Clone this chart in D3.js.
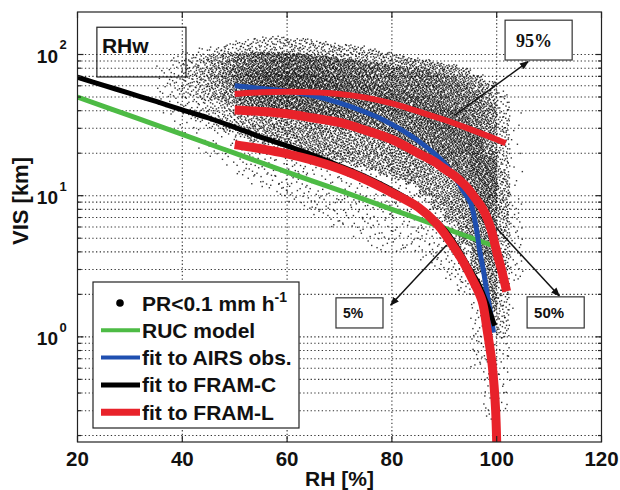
<!DOCTYPE html>
<html>
<head>
<meta charset="utf-8">
<script src="https://cdn.jsdelivr.net/npm/d3@7"></script>
<style>
body{margin:0;background:#fff;}
svg text{font-family:"Liberation Sans",Arial,Helvetica,sans-serif;font-weight:bold;fill:#111;}
</style>
</head>
<body>
<div id="chart"></div>
<script>
// fitted curves, RH [%] against VIS [km]
var rucRH  = [20, 30, 40, 50, 60, 70, 80, 90, 99.4];
var rucVis = [50, 36.9, 27.2, 20, 14.7, 10.9, 8.0, 5.9, 4.4];

var airsRH  = [50, 55, 60, 65, 70, 75, 78.4, 82, 85, 88, 90, 92, 93.5, 95, 96, 96.8, 97.5, 98.1, 98.8, 99.4];
var airsVis = [60, 57.5, 55, 51, 45.5, 39, 34.4, 29, 24.5, 20, 17, 13.6, 11, 8.9, 6.2, 4, 2.9, 2.1, 1.5, 1.07];

var framcRH  = [20, 25, 30, 35, 40, 45, 50, 55, 60, 65, 70, 75, 80, 85, 89.8, 92.5, 94.9, 96.5, 97.4, 98.3, 99, 99.6];
var framcVis = [69, 60.5, 53, 46.5, 40.5, 35.5, 30.5, 26, 22.5, 19.3, 16.3, 13.6, 11, 8.5, 5.9, 4.3, 3.0, 2.4, 2.0, 1.65, 1.4, 1.2];

// FRAM-L percentiles (95%, 50%, 5%)
var framl95RH  = [50, 55, 60, 65, 70, 75, 80, 85, 90, 95, 100, 101.7];
var framl95Vis = [52.5, 54, 54.5, 54, 52.5, 49.5, 45, 39.5, 34.5, 29.5, 25, 23.5];

var framl50RH  = [50, 55, 60, 65, 70, 75, 80, 85, 88, 90, 92, 94, 96, 97.4, 98.8, 100, 101, 101.9];
var framl50Vis = [40.5, 39.5, 38, 35.5, 33, 29, 25, 20, 17.5, 15.5, 13.8, 11.8, 9.5, 8, 6, 4, 2.9, 2.1];

var framl05RH  = [50, 55, 60, 65, 70, 75, 80, 85, 88.6, 91, 93.6, 95.5, 97.2, 98.2, 99, 99.5, 99.8, 100];
var framl05Vis = [23, 21.5, 19.8, 17.8, 15.5, 13, 10.5, 8.3, 6.3, 4.8, 3.4, 2.5, 1.8, 1.1, 0.7, 0.45, 0.3, 0.18];

// observation cloud (PR<0.1 mm/h), per 2.5 % RH bin: count and VIS quantiles [km]
var binRH   = [35, 37.5, 40, 42.5, 45, 47.5, 50, 52.5, 55, 57.5, 60, 62.5, 65, 67.5, 70, 72.5, 75, 77.5, 80, 82.5, 85, 87.5, 90, 92.5, 95, 97.5, 100, 102.5];
var binN    = [15, 40, 80, 120, 180, 260, 360, 440, 500, 540, 560, 570, 570, 570, 560, 550, 550, 550, 570, 600, 640, 680, 720, 800, 950, 1050, 450, 50];
var visMin  = [35, 30, 25, 20, 18, 16, 14, 12, 11, 10, 9, 8, 7, 6, 6, 5, 4, 4, 4, 4, 3.5, 3, 2.5, 2, 0.6, 0.25, 0.3, 0.8];
var visQ05  = [40, 38, 35, 33, 30, 28, 26, 24, 23, 22, 21, 20, 19, 18, 17, 16, 15, 14, 13, 12, 10, 8, 6.5, 4.5, 2.8, 1.5, 1, 2.5];
var visQ25  = [50, 50, 50, 48, 47, 45, 43, 41, 40, 38, 37, 35, 33, 32, 30, 29, 27, 25, 23, 21, 19, 17, 14, 10, 6.5, 3.5, 2.8, 3.5];
var visMed  = [60, 62, 63, 63, 63, 62, 60, 58, 57, 55, 54, 52, 50, 48, 46, 44, 42, 40, 37, 35, 32, 29, 25, 20, 14, 9, 7, 5.5];
var visQ75  = [72, 75, 77, 79, 80, 80, 79, 78, 77, 76, 75, 73, 71, 69, 67, 65, 62, 59, 56, 54, 51, 47, 42, 36, 27, 19, 15, 9];
var visQ95  = [88, 92, 95, 98, 100, 102, 103, 104, 104, 103, 102, 100, 98, 96, 93, 91, 88, 86, 83, 80, 78, 74, 70, 64, 56, 46, 38, 30];
var visMax  = [98, 102, 108, 112, 115, 120, 125, 130, 135, 135, 130, 130, 125, 120, 118, 115, 110, 105, 100, 95, 92, 88, 85, 80, 72, 65, 55, 45];

var xTicks = [20, 40, 60, 80, 100, 120];

function init(){
    var w = 620, h = 490;
    var left = 77.5, right = 601.5, top = 12, bottom = 442;

    var x = d3.scaleLinear().domain([20, 120]).range([left, right]);
    var y = d3.scaleLog().domain([0.18, 200]).range([bottom, top]);

    var svg = d3.select("#chart").append("svg")
                .attr("width", w)
                .attr("height", h);

    svg.append("clipPath").attr("id", "plotclip")
       .append("rect")
       .attr("x", left).attr("y", top)
       .attr("width", right - left).attr("height", bottom - top);

    // dotted grid
    var yTicks = y.ticks().filter(function(v){ return v < 200; });
    var grid = svg.append("g")
                  .attr("stroke", "#333")
                  .attr("stroke-width", 1.1)
                  .attr("stroke-dasharray", "1.3,2.4");
    grid.selectAll("line.gx")
        .data(xTicks.slice(1, -1))
        .enter().append("line")
        .attr("x1", function(d){ return x(d); })
        .attr("x2", function(d){ return x(d); })
        .attr("y1", top).attr("y2", bottom);
    grid.selectAll("line.gy")
        .data(yTicks)
        .enter().append("line")
        .attr("y1", function(d){ return y(d); })
        .attr("y2", function(d){ return y(d); })
        .attr("x1", left).attr("x2", right);

    // scatter cloud: dots spread inside each bin by a Halton sequence
    function halton(i, b){
        var f = 1, r = 0;
        while(i > 0){ f = f / b; r = r + f * (i % b); i = Math.floor(i / b); }
        return r;
    }
    var pts = [];
    var k = 1;
    binRH.forEach(function(rh, i){
        var q = d3.scaleLinear()
                  .domain([0, 0.05, 0.25, 0.5, 0.75, 0.95, 1])
                  .range([visMin[i], visQ05[i], visQ25[i], visMed[i], visQ75[i], visQ95[i], visMax[i]].map(Math.log10));
        for(var n = 0; n < binN[i]; n++){
            pts.push([rh + 2.5 * halton(k, 2), Math.pow(10, q(halton(k, 3)))]);
            k++;
        }
    });
    svg.append("g")
       .attr("clip-path", "url(#plotclip)")
       .selectAll("rect")
       .data(pts)
       .enter().append("rect")
       .attr("x", function(d){ return x(d[0]) - 0.7; })
       .attr("y", function(d){ return y(d[1]) - 0.7; })
       .attr("width", 1.4).attr("height", 1.4)
       .attr("fill", "#000")
       .attr("fill-opacity", 0.8);

    // curves
    var line = d3.line()
                 .x(function(d){ return x(d[0]); })
                 .y(function(d){ return y(d[1]); })
                 .curve(d3.curveCatmullRom.alpha(0.5));
    var curves = [
        {rh: rucRH,     vis: rucVis,     color: "#4dbb45", width: 5},
        {rh: airsRH,    vis: airsVis,    color: "#1f4fb0", width: 5},
        {rh: framcRH,   vis: framcVis,   color: "#000000", width: 5},
        {rh: framl95RH, vis: framl95Vis, color: "#e8222a", width: 6},
        {rh: framl50RH, vis: framl50Vis, color: "#e8222a", width: 9},
        {rh: framl05RH, vis: framl05Vis, color: "#e8222a", width: 9}
    ];
    svg.append("g")
       .attr("clip-path", "url(#plotclip)")
       .selectAll("path")
       .data(curves)
       .enter().append("path")
       .attr("d", function(c){ return line(c.rh.map(function(v, i){ return [v, c.vis[i]]; })); })
       .attr("fill", "none")
       .attr("stroke", function(c){ return c.color; })
       .attr("stroke-width", function(c){ return c.width; });

    // frame and inward ticks
    svg.append("rect")
       .attr("x", left).attr("y", top)
       .attr("width", right - left).attr("height", bottom - top)
       .attr("fill", "none").attr("stroke", "#222").attr("stroke-width", 1.2);
    var tk = svg.append("g").attr("stroke", "#222").attr("stroke-width", 1.2);
    xTicks.forEach(function(v){
        tk.append("line").attr("x1", x(v)).attr("x2", x(v)).attr("y1", bottom).attr("y2", bottom - 6);
        tk.append("line").attr("x1", x(v)).attr("x2", x(v)).attr("y1", top).attr("y2", top + 6);
    });
    yTicks.forEach(function(v){
        var len = (Math.abs(Math.log10(v) - Math.round(Math.log10(v))) < 1e-9) ? 6 : 3.5;
        tk.append("line").attr("y1", y(v)).attr("y2", y(v)).attr("x1", left).attr("x2", left + len);
        tk.append("line").attr("y1", y(v)).attr("y2", y(v)).attr("x1", right).attr("x2", right - len);
    });

    // tick labels
    svg.selectAll("text.xl")
       .data(xTicks)
       .enter().append("text")
       .attr("x", function(d){ return x(d); })
       .attr("y", 466)
       .attr("text-anchor", "middle")
       .attr("font-size", 20.5)
       .text(function(d){ return d; });
    [1, 10, 100].forEach(function(v){
        svg.append("text")
           .attr("x", 58).attr("y", y(v) + 8.5)
           .attr("text-anchor", "end")
           .attr("font-size", 19)
           .text("10");
        svg.append("text")
           .attr("x", 59.5).attr("y", y(v) - 5)
           .attr("font-size", 13)
           .text(Math.round(Math.log10(v)));
    });

    svg.append("text")
       .attr("x", (left + right) / 2).attr("y", 486)
       .attr("text-anchor", "middle")
       .attr("font-size", 21)
       .text("RH [%]");
    svg.append("text")
       .attr("transform", "translate(28," + 201 + ") rotate(-90)")
       .attr("text-anchor", "middle")
       .attr("font-size", 22)
       .text("VIS [km]");

    // RHw label box (transparent)
    svg.append("rect")
       .attr("x", x(23.7)).attr("y", y(156))
       .attr("width", x(40.7) - x(23.7)).attr("height", y(69.3) - y(156))
       .attr("fill", "none").attr("stroke", "#222").attr("stroke-width", 1.2);
    svg.append("text")
       .attr("x", x(23.7) + 5).attr("y", y(156) + 26)
       .attr("font-size", 21)
       .text("RHw");

    // percentile annotations: arrow tail on curve, head at box
    var defs = svg.append("defs");
    defs.append("marker")
        .attr("id", "head")
        .attr("viewBox", "0 0 10 10")
        .attr("refX", 9).attr("refY", 5)
        .attr("markerWidth", 6).attr("markerHeight", 6)
        .attr("orient", "auto")
        .append("path")
        .attr("d", "M0,1 L10,5 L0,9 z")
        .attr("fill", "#111");

    var notes = [
        {label: "95%", serif: true,  from: [92.0, 37.2],  to: [106.0, 89],  box: [101.6, 114.4, 175, 91.4], size: 18},
        {label: "5%",  serif: false, from: [90.46, 4.48], to: [79.77, 1.68], box: [69.33, 78.3, 1.89, 1.156], size: 14},
        {label: "50%", serif: false, from: [100.0, 5.87], to: [111.95, 1.95], box: [105.8, 116.7, 1.92, 1.156], size: 15}
    ];
    notes.forEach(function(n){
        svg.append("line")
           .attr("x1", x(n.from[0])).attr("y1", y(n.from[1]))
           .attr("x2", x(n.to[0])).attr("y2", y(n.to[1]))
           .attr("stroke", "#111").attr("stroke-width", 1.5)
           .attr("marker-end", "url(#head)");
        var bx = x(n.box[0]), by = y(n.box[2]);
        var bw = x(n.box[1]) - bx, bh = y(n.box[3]) - by;
        svg.append("rect")
           .attr("x", bx).attr("y", by).attr("width", bw).attr("height", bh)
           .attr("fill", "#fff").attr("stroke", "#333").attr("stroke-width", 1.2);
        svg.append("text")
           .attr("x", bx + (n.serif ? 11 : 7)).attr("y", by + bh / 2 + n.size * 0.36)
           .attr("font-size", n.size)
           .style("font-family", n.serif ? "'Liberation Serif','Times New Roman',serif" : null)
           .text(n.label);
    });

    // legend
    var lg = svg.append("g");
    lg.append("rect")
      .attr("x", 93).attr("y", 282).attr("width", 206).attr("height", 146)
      .attr("fill", "#fff").attr("stroke", "#222").attr("stroke-width", 1.2);
    var items = [
        {label: "PR<0.1 mm h", sup: "-1", dot: true},
        {label: "RUC model",        color: curves[0].color, width: 4},
        {label: "fit to AIRS obs.", color: curves[1].color, width: 4},
        {label: "fit to FRAM-C",    color: curves[2].color, width: 5},
        {label: "fit to FRAM-L",    color: curves[3].color, width: 7}
    ];
    items.forEach(function(it, i){
        var cy = 303 + i * 27.3;
        if(it.dot){
            lg.append("circle").attr("cx", 120).attr("cy", cy).attr("r", 3.8).attr("fill", "#000");
        } else {
            lg.append("line")
              .attr("x1", 101).attr("x2", 140).attr("y1", cy).attr("y2", cy)
              .attr("stroke", it.color).attr("stroke-width", it.width);
        }
        var t = lg.append("text")
                  .attr("x", 142).attr("y", cy + 7.5)
                  .attr("font-size", 21)
                  .text(it.label);
        if(it.sup){
            t.append("tspan").attr("dy", -9).attr("font-size", 14).text(it.sup);
        }
    });
}

window.onload = init;
</script>
</body>
</html>
